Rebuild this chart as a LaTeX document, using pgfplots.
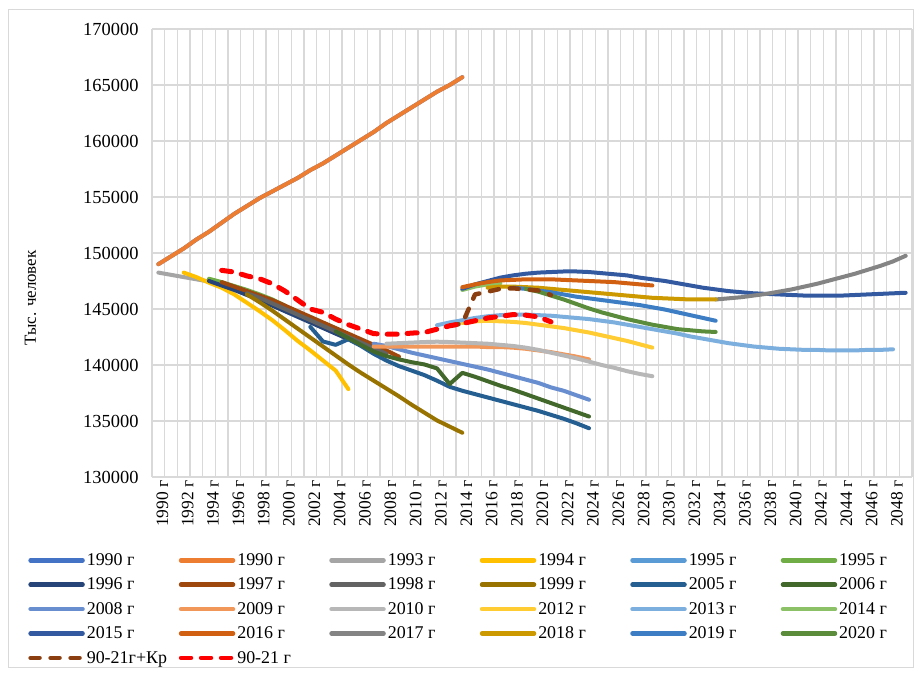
\documentclass[border=0pt]{standalone}
\usepackage{pgfplots}
\pgfplotsset{compat=1.18}
\usepackage{fontspec}
\setmainfont{Liberation Serif}
\definecolor{gridc}{HTML}{D9D9D9}
\definecolor{cA}{HTML}{4472C4}
\definecolor{cB}{HTML}{ED7D31}
\definecolor{cC}{HTML}{A5A5A5}
\definecolor{cD}{HTML}{FFC000}
\definecolor{cE}{HTML}{5B9BD5}
\definecolor{cF}{HTML}{70AD47}
\definecolor{cG}{HTML}{264478}
\definecolor{cH}{HTML}{9E480E}
\definecolor{cI}{HTML}{636363}
\definecolor{cJ}{HTML}{997300}
\definecolor{cK}{HTML}{255E91}
\definecolor{cL}{HTML}{43682B}
\definecolor{cM}{HTML}{698ED0}
\definecolor{cN}{HTML}{F1975A}
\definecolor{cO}{HTML}{B7B7B7}
\definecolor{cP}{HTML}{FFCD33}
\definecolor{cQ}{HTML}{7CAFDD}
\definecolor{cR}{HTML}{8CC168}
\definecolor{cS}{HTML}{335AA1}
\definecolor{cT}{HTML}{D26012}
\definecolor{cU}{HTML}{848484}
\definecolor{cV}{HTML}{CC9A00}
\definecolor{cW}{HTML}{3C7DC4}
\definecolor{cX}{HTML}{5B8C3C}
\definecolor{cY}{HTML}{8B3F10}
\definecolor{cZ}{HTML}{FF0000}
\newcommand{\lgbox}[1]{\makebox[90bp][l]{#1}}
\begin{document}
\begin{tikzpicture}
\path[use as bounding box] (0,0) rectangle (918bp,675bp);
\draw[gridc, line width=1bp] (8bp,7bp) rectangle (913bp,665bp);
\begin{axis}[
  at={(152bp,198bp)}, anchor=south west,
  width=760bp, height=448bp, scale only axis,
  xmin=1989.5, xmax=2049.5, ymin=130000, ymax=170000,
  xtick={1990,1992,...,2048},
  xticklabels={1990 г,1992 г,1994 г,1996 г,1998 г,2000 г,2002 г,2004 г,2006 г,2008 г,2010 г,2012 г,2014 г,2016 г,2018 г,2020 г,2022 г,2024 г,2026 г,2028 г,2030 г,2032 г,2034 г,2036 г,2038 г,2040 г,2042 г,2044 г,2046 г,2048 г},
  minor xtick={1989.5,1990.5,...,2049.5},
  ytick={130000,135000,140000,145000,150000,155000,160000,165000,170000},
  yticklabels={130000,135000,140000,145000,150000,155000,160000,165000,170000},
  xminorgrids=true, xmajorgrids=false, ymajorgrids=true,
  major grid style={draw=gridc, line width=1.2bp},
  minor grid style={draw=gridc, line width=1.2bp},
  axis line style={draw=none},
  major tick style={draw=none}, minor tick style={draw=none},
  scaled y ticks=false,
  yticklabel style={font=\fontsize{18.5}{21}\selectfont, anchor=east, xshift=-10bp},
  xticklabel style={rotate=90, anchor=east, font=\fontsize{17.5}{20}\selectfont, yshift=-4bp},
  ylabel={Тыс. человек},
  ylabel style={at={(axis description cs:-0.16,0.40)}, anchor=center, font=\fontsize{17}{20}\selectfont},
  every axis plot/.append style={line width=4bp, line cap=round, line join=round, no markers},
  legend columns=6,
  legend cell align=left,
  legend style={at={(axis description cs:-0.163,-0.166)}, anchor=north west, draw=none, fill=none,
    font=\fontsize{18}{21}\selectfont, row sep=7bp, inner sep=0pt},
  legend image code/.code={\draw[#1,line width=4.5bp] (0bp,0bp) -- (52bp,0bp);},
]
\addplot[cA] coordinates {(1990,149000)(1991,149700)(1992,150400)(1993,151200)(1994,151900)(1995,152700)(1996,153500)(1997,154200)(1998,154900)(1999,155500)(2000,156100)(2001,156700)(2002,157400)(2003,158000)(2004,158700)(2005,159400)(2006,160100)(2007,160800)(2008,161600)(2009,162300)(2010,163000)(2011,163700)(2012,164400)(2013,165000)(2014,165700)};
\addlegendentry{\lgbox{1990 г}}
\addplot[cB] coordinates {(1990,149000)(1991,149700)(1992,150400)(1993,151200)(1994,151900)(1995,152700)(1996,153500)(1997,154200)(1998,154900)(1999,155500)(2000,156100)(2001,156700)(2002,157400)(2003,158000)(2004,158700)(2005,159400)(2006,160100)(2007,160800)(2008,161600)(2009,162300)(2010,163000)(2011,163700)(2012,164400)(2013,165000)(2014,165700)};
\addlegendentry{\lgbox{1990 г}}
\addplot[cC] coordinates {(1990,148250)(1991,148050)(1992,147850)(1993,147650)(1994,147450)};
\addlegendentry{\lgbox{1993 г}}
\addplot[cD] coordinates {(1992,148250)(1993,147850)(1994,147350)(1995,146900)(1996,146300)(1997,145550)(1998,144800)(1999,144000)(2000,143100)(2001,142150)(2002,141300)(2003,140400)(2004,139500)(2005,137850)};
\addlegendentry{\lgbox{1994 г}}
\addplot[cE] coordinates {(1994,147600)(1995,147250)(1996,146850)(1997,146400)(1998,145900)(1999,145400)(2000,144900)};
\addlegendentry{\lgbox{1995 г}}
\addplot[cF] coordinates {(1994,147700)(1995,147400)(1996,147050)(1997,146700)(1998,146300)(1999,145850)(2000,145300)};
\addlegendentry{\lgbox{1995 г}}
\addplot[cG] coordinates {(1994,147500)(1995,147100)(1996,146700)(1997,146250)(1998,145800)(1999,145300)(2000,144800)(2001,144300)(2002,143800)(2003,143300)(2004,142800)(2005,142300)(2006,141800)};
\addlegendentry{\lgbox{1996 г}}
\addplot[cH] coordinates {(1995,147400)(1996,147000)(1997,146600)(1998,146200)(1999,145800)(2000,145300)(2001,144800)(2002,144300)(2003,143800)(2004,143300)(2005,142800)(2006,142300)(2007,141800)(2008,141300)(2009,140750)};
\addlegendentry{\lgbox{1997 г}}
\addplot[cI] coordinates {(1997,146400)(1998,146000)(1999,145500)(2000,145000)(2001,144500)(2002,144000)(2003,143500)(2004,143000)(2005,142500)(2006,142000)(2007,141500)(2008,141000)};
\addlegendentry{\lgbox{1998 г}}
\addplot[cJ] coordinates {(1997,146300)(1998,145600)(1999,144850)(2000,144050)(2001,143250)(2002,142450)(2003,141650)(2004,140850)(2005,140050)(2006,139300)(2007,138600)(2008,137900)(2009,137200)(2010,136450)(2011,135750)(2012,135050)(2013,134500)(2014,133950)};
\addlegendentry{\lgbox{1999 г}}
\addplot[cK] coordinates {(2002,143400)(2003,142100)(2004,141800)(2005,142300)(2006,141700)(2007,141000)(2008,140400)(2009,139900)(2010,139500)(2011,139100)(2012,138600)(2013,138050)(2014,137700)(2015,137400)(2016,137100)(2017,136800)(2018,136500)(2019,136200)(2020,135900)(2021,135550)(2022,135200)(2023,134800)(2024,134350)};
\addlegendentry{\lgbox{2005 г}}
\addplot[cL] coordinates {(2004,143000)(2005,142400)(2006,141800)(2007,141200)(2008,140800)(2009,140500)(2010,140250)(2011,140050)(2012,139700)(2013,138300)(2014,139300)(2015,138950)(2016,138550)(2017,138150)(2018,137800)(2019,137400)(2020,137000)(2021,136600)(2022,136200)(2023,135800)(2024,135400)};
\addlegendentry{\lgbox{2006 г}}
\addplot[cM] coordinates {(2007,141900)(2008,141700)(2009,141400)(2010,141100)(2011,140850)(2012,140600)(2013,140350)(2014,140100)(2015,139850)(2016,139600)(2017,139300)(2018,139000)(2019,138700)(2020,138400)(2021,138000)(2022,137700)(2023,137300)(2024,136900)};
\addlegendentry{\lgbox{2008 г}}
\addplot[cN] coordinates {(2007,141650)(2008,141650)(2009,141650)(2010,141650)(2011,141650)(2012,141650)(2013,141650)(2014,141650)(2015,141650)(2016,141600)(2017,141600)(2018,141550)(2019,141450)(2020,141300)(2021,141150)(2022,140950)(2023,140750)(2024,140500)};
\addlegendentry{\lgbox{2009 г}}
\addplot[cO] coordinates {(2008,141900)(2009,141950)(2010,142000)(2011,142050)(2012,142080)(2013,142050)(2014,142000)(2015,141950)(2016,141900)(2017,141800)(2018,141700)(2019,141550)(2020,141350)(2021,141100)(2022,140850)(2023,140600)(2024,140300)(2025,140000)(2026,139750)(2027,139450)(2028,139200)(2029,139000)};
\addlegendentry{\lgbox{2010 г}}
\addplot[cP] coordinates {(2014,143750)(2015,143900)(2016,143950)(2017,143900)(2018,143850)(2019,143750)(2020,143600)(2021,143450)(2022,143300)(2023,143100)(2024,142900)(2025,142650)(2026,142400)(2027,142150)(2028,141850)(2029,141550)};
\addlegendentry{\lgbox{2012 г}}
\addplot[cQ] coordinates {(2012,143550)(2013,143800)(2014,144000)(2015,144200)(2016,144350)(2017,144450)(2018,144500)(2019,144500)(2020,144450)(2021,144400)(2022,144300)(2023,144200)(2024,144100)(2025,143950)(2026,143800)(2027,143600)(2028,143400)(2029,143200)(2030,143000)(2031,142800)(2032,142550)(2033,142350)(2034,142150)(2035,141950)(2036,141800)(2037,141650)(2038,141550)(2039,141450)(2040,141400)(2041,141350)(2042,141350)(2043,141300)(2044,141300)(2045,141300)(2046,141350)(2047,141350)(2048,141400)};
\addlegendentry{\lgbox{2013 г}}
\addplot[cR] coordinates {(2014,146700)(2015,147000)(2016,147200)(2017,147300)};
\addlegendentry{\lgbox{2014 г}}
\addplot[cS] coordinates {(2014,146800)(2015,147200)(2016,147500)(2017,147800)(2018,148000)(2019,148150)(2020,148250)(2021,148300)(2022,148350)(2023,148350)(2024,148300)(2025,148200)(2026,148100)(2027,148000)(2028,147800)(2029,147650)(2030,147500)(2031,147300)(2032,147100)(2033,146900)(2034,146750)(2035,146600)(2036,146500)(2037,146400)(2038,146350)(2039,146300)(2040,146250)(2041,146200)(2042,146200)(2043,146200)(2044,146200)(2045,146250)(2046,146300)(2047,146350)(2048,146400)(2049,146450)};
\addlegendentry{\lgbox{2015 г}}
\addplot[cT] coordinates {(2014,146950)(2015,147200)(2016,147400)(2017,147550)(2018,147600)(2019,147650)(2020,147650)(2021,147650)(2022,147600)(2023,147550)(2024,147500)(2025,147450)(2026,147400)(2027,147300)(2028,147200)(2029,147100)};
\addlegendentry{\lgbox{2016 г}}
\addplot[cU] coordinates {(2034,145850)(2035,145950)(2036,146050)(2037,146200)(2038,146350)(2039,146550)(2040,146750)(2041,147000)(2042,147250)(2043,147550)(2044,147850)(2045,148150)(2046,148500)(2047,148850)(2048,149250)(2049,149750)};
\addlegendentry{\lgbox{2017 г}}
\addplot[cV] coordinates {(2016,146900)(2017,147000)(2018,147000)(2019,146950)(2020,146900)(2021,146800)(2022,146700)(2023,146600)(2024,146500)(2025,146400)(2026,146300)(2027,146200)(2028,146100)(2029,146000)(2030,145950)(2031,145900)(2032,145850)(2033,145850)(2034,145850)};
\addlegendentry{\lgbox{2018 г}}
\addplot[cW] coordinates {(2018,146900)(2019,146800)(2020,146650)(2021,146500)(2022,146300)(2023,146100)(2024,145950)(2025,145800)(2026,145650)(2027,145500)(2028,145350)(2029,145150)(2030,144950)(2031,144700)(2032,144450)(2033,144200)(2034,143950)};
\addlegendentry{\lgbox{2019 г}}
\addplot[cX] coordinates {(2019,146800)(2020,146550)(2021,146200)(2022,145850)(2023,145450)(2024,145050)(2025,144700)(2026,144400)(2027,144100)(2028,143850)(2029,143600)(2030,143400)(2031,143200)(2032,143100)(2033,143000)(2034,142950)};
\addlegendentry{\lgbox{2020 г}}
\addplot[cY, line width=4.5bp, dash pattern=on 9bp off 11bp] coordinates {(2013,143500)(2014,143700)(2015,146300)(2016,146550)(2017,146800)(2018,146850)(2019,146750)(2020,146650)(2021,146250)};
\addlegendentry{\lgbox{90-21г+Кр}}
\addplot[cZ, line width=5bp, dash pattern=on 10bp off 10bp] coordinates {(1995,148450)(1996,148300)(1997,147950)(1998,147700)(1999,147250)(2000,146600)(2001,145800)(2002,145000)(2003,144700)(2004,144100)(2005,143600)(2006,143200)(2007,142800)(2008,142750)(2009,142750)(2010,142850)(2011,142900)(2012,143200)(2013,143500)(2014,143700)(2015,143950)(2016,144200)(2017,144350)(2018,144500)(2019,144450)(2020,144300)(2021,143850)};
\addlegendentry{\lgbox{90-21 г}}
\end{axis}
\end{tikzpicture}
\end{document}
